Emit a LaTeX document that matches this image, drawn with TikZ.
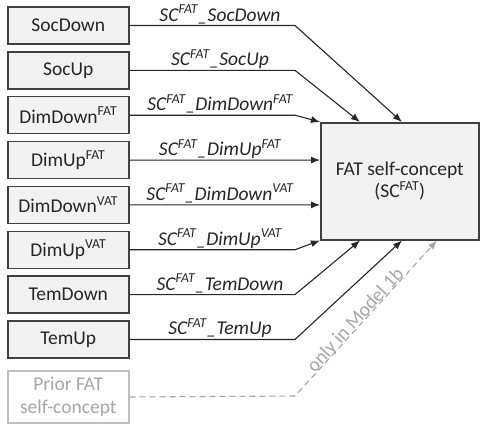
\documentclass[tikz,border=0pt]{standalone}
\usepackage{fontspec}
\setmainfont{Carlito}
\usetikzlibrary{arrows.meta}
\usetikzlibrary{calc}
\tikzset{>={Latex[length=9pt,width=7pt]}}
\newcommand{\diagfont}{\fontsize{19.5}{22.5}\selectfont}
\colorlet{linecol}{black!85}
\colorlet{boxcol}{black!75}
\colorlet{boxfill}{black!5}
\colorlet{priorcol}{black!35}
\tikzstyle{predictor}=[draw=boxcol,fill=boxfill,line width=1.5pt,text=black!85,
                       minimum width=121pt,minimum height=37pt,inner sep=0pt,anchor=west]
\tikzstyle{outcome}=[draw=boxcol,fill=boxfill,line width=1.5pt,text=black!85,align=center,
                     minimum width=158pt,minimum height=117pt,inner sep=0pt,anchor=north west]
\tikzstyle{prior}=[draw=black!25,fill=white,line width=1.5pt,text=priorcol,align=center,
                   minimum width=121pt,minimum height=52pt,inner sep=0pt,anchor=west]
\tikzset{
  pathline/.style={->,line width=1.1pt,linecol},
  priorline/.style={->,line width=1.1pt,priorcol,dash pattern=on 6pt off 4pt},
  coeff/.style={anchor=base,inner sep=0pt,text=black!85,font=\diagfont\itshape}}

\begin{document}
\begin{tikzpicture}[x=1pt,y=-1pt,font=\diagfont]
  \useasboundingbox (0,0) rectangle (480,424);
  \def\xL{7}
  \def\xB{295}
  \def\xC{220}
  \def\dy{44.85}

  % OUTCOME
  \node[outcome] (SC) at (320,122) {FAT self-concept\\(SC\textsuperscript{FAT})};
  \coordinate (tA) at ($(SC.north west)+(82,0)$);
  \coordinate (tB) at ($(SC.north west)+(40,0)$);
  \coordinate (tC) at (SC.north west);
  \coordinate (tD) at (SC.west |- 0,160.05);
  \coordinate (tE) at (SC.west |- 0,204.9);
  \coordinate (tF) at (SC.south west);
  \coordinate (tG) at ($(SC.south west)+(40,0)$);
  \coordinate (tH) at ($(SC.south west)+(82,0)$);
  \coordinate (tI) at ($(SC.south west)+(117,0)$);

  % PREDICTORS
  \foreach \name/\txt/\tip [count=\i,evaluate={\yc=25.5+\dy*(\i-1);}] in {
      SocDown/SocDown/tA,
      SocUp/SocUp/tB,
      DimDownF/DimDown\textsuperscript{FAT}/tC,
      DimUpF/DimUp\textsuperscript{FAT}/tD,
      DimDownV/DimDown\textsuperscript{VAT}/tE,
      DimUpV/DimUp\textsuperscript{VAT}/tF,
      TemDown/TemDown/tG,
      TemUp/TemUp/tH}{
    \node[predictor] (\name) at (\xL,\yc) {\txt};
    \coordinate (\name b) at (\xB,\yc);
    \draw[pathline] (\name.east) -- (\name b) -- (\tip);
    \node[coeff] (\name c) at (\xC,\yc-4.5) {SC\textsuperscript{FAT}\_\txt};
  }

  % PRIOR SELF-CONCEPT
  \node[prior] (Prior) at (\xL,397) {Prior FAT\\self-concept};
  \coordinate (Prior b) at (\xB,396);
  \draw[priorline] (Prior.east) -- (Prior b)
    -- node[sloped,above=-3pt,pos=0.46,inner sep=0pt,text=priorcol] {only in Model 1b} (tI);

\end{tikzpicture}
\end{document}
